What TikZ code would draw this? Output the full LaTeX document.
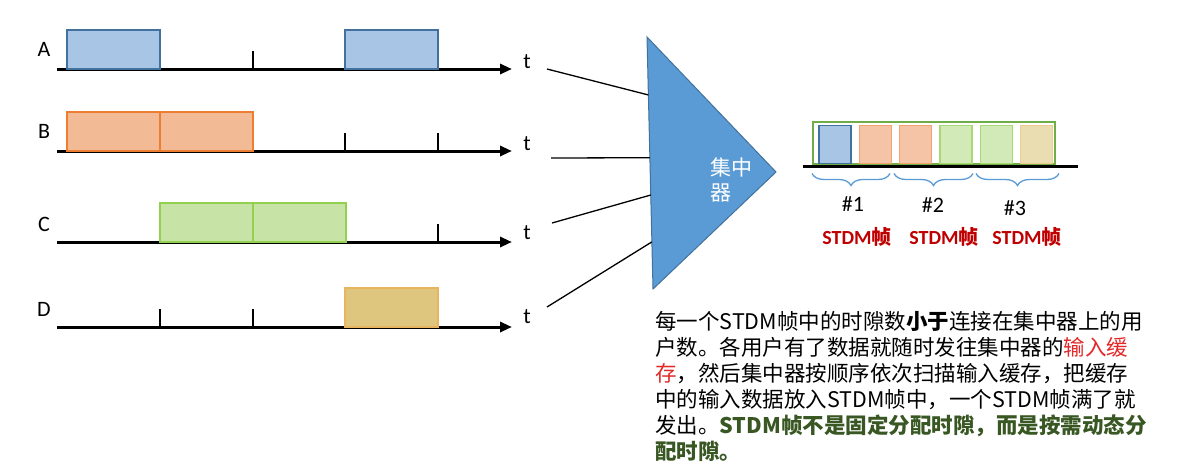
\documentclass[tikz,border=0pt]{standalone}
\usepackage{fontspec}
\setmainfont{Carlito}
\newfontfamily\cjk{Noto Sans CJK SC}
\usepackage{xcolor}
\usepackage{tikz}
\usetikzlibrary{positioning,arrows.meta,calc,decorations.pathreplacing}
\definecolor{afill}{RGB}{168,197,229}
\definecolor{adraw}{RGB}{65,113,156}
\definecolor{bfill}{RGB}{243,186,150}
\definecolor{bdraw}{RGB}{237,125,49}
\definecolor{cfill}{RGB}{199,228,166}
\definecolor{cdraw}{RGB}{146,208,80}
\definecolor{dfill}{RGB}{222,198,126}
\definecolor{ddraw}{RGB}{232,180,96}
\definecolor{concfill}{RGB}{91,155,213}
\definecolor{concdraw}{RGB}{65,113,156}
\definecolor{framecol}{RGB}{112,173,71}
\definecolor{bracecol}{RGB}{91,155,213}
\definecolor{stdmred}{RGB}{192,0,0}
\definecolor{bufred}{RGB}{226,40,40}
\definecolor{notegreen}{RGB}{56,87,35}

\begin{document}
\begin{tikzpicture}[x=1pt,y=-1pt,
axis/.style={-{Triangle[length=12pt,width=10pt]},line width=3pt},
tick/.style={line width=1.4pt},
slot/.style={draw,line width=1.2pt,minimum width=93pt,minimum height=39pt,inner sep=0pt,outer sep=0pt,anchor=south west},
fslot/.style={draw,line width=1.2pt,minimum width=32pt,minimum height=38pt,inner sep=0pt,outer sep=0pt},
lbl/.style={inner sep=0pt,font=\fontsize{22}{26}\selectfont},
link/.style={line width=1.3pt},
brc/.style={decorate,decoration={brace,mirror,amplitude=12pt},draw=bracecol,line width=1.3pt},
stdm/.style={inner sep=0pt,text=stdmred,font=\fontsize{20}{24}\selectfont\bfseries}]
\useasboundingbox (0,0) rectangle (1199,475);

% channels A-D
\node[lbl] (la) at (44,49) {A};
\node[lbl] (lb) at (44,131) {B};
\node[lbl] (lc) at (44,224) {C};
\node[lbl] (ld) at (44,309) {D};
\node[lbl] (ta) at (527,62) {t};
\node[lbl] (tb) at (527,144) {t};
\node[lbl] (tc) at (527,233) {t};
\node[lbl] (td) at (527,317) {t};

\draw[axis] (57,69) -- (512,69);
\draw[axis] (57,151) -- (512,151);
\draw[axis] (57,242) -- (512,242);
\draw[axis] (57,327) -- (512,327);
\foreach \y in {69,151,242,327}
  \foreach \x in {160,253,345,438}
    \draw[tick] (\x,\y) -- (\x,\y-18);

\node[slot,fill=afill,draw=adraw] (a1) at (67,69) {};
\node[slot,fill=afill,draw=adraw] (a2) at (345,69) {};
\node[slot,fill=bfill,draw=bdraw] (b1) at (67,151) {};
\node[slot,fill=bfill,draw=bdraw] (b2) at (160,151) {};
\node[slot,fill=cfill,draw=cdraw] (c1) at (160,242) {};
\node[slot,fill=cfill,draw=cdraw] (c2) at (253,242) {};
\node[slot,fill=dfill,draw=ddraw] (d1) at (345,327) {};

% concentrator
\draw[fill=concfill,draw=concdraw,line width=1pt] (647,37) coordinate (p1) -- (776,172) coordinate (p3) -- (653,289) coordinate (p2) -- cycle;
\node[inner sep=0pt,anchor=north west,align=left,text=white,font=\cjk\fontsize{21}{25}\selectfont] (conc) at (710,158) {集中\\器};
\coordinate (ia) at ($(p1)!0.23!(p2)$);
\coordinate (ib) at ($(p1)!0.479!(p2)$);
\coordinate (ic) at ($(p1)!0.627!(p2)$);
\coordinate (id) at ($(p1)!0.813!(p2)$);
\coordinate (sa) at (547,69);
\coordinate (sb) at (551,158);
\coordinate (sc) at (552,223);
\coordinate (sd) at (547,307);
\draw[link] (sa) -- (ia);
\draw[link] (sb) -- (ib);
\draw[link] (sc) -- (ic);
\draw[link] (sd) -- (id);

% STDM frames
\node[draw=framecol,line width=1.5pt,minimum width=242pt,minimum height=42pt,inner sep=0pt,anchor=south west] (frm) at (812,164.5) {};
\node[fslot,fill=afill,draw=adraw,anchor=south west] (f1) at (819,163.5) {};
\node[fslot,fill=bfill!85!white,draw=bdraw!70!white,right=8.3pt of f1] (f2) {};
\node[fslot,fill=bfill!85!white,draw=bdraw!70!white,right=8.3pt of f2] (f3) {};
\node[fslot,fill=cfill!80!white,draw=cdraw!80!white,right=8.3pt of f3] (f4) {};
\node[fslot,fill=cfill!80!white,draw=cdraw!80!white,right=8.3pt of f4] (f5) {};
\node[fslot,fill=dfill!60!white,draw=ddraw!70!white,right=8.3pt of f5] (f6) {};
\draw[line width=2.6pt] (803,166.5) -- (1078,166.5);

\draw[brc] (812,173.5) -- (890,173.5);
\draw[brc] (894,173.5) -- (973,173.5);
\draw[brc] (976,173.5) -- (1059,173.5);
\node[lbl] (n1) at (853,204) {\#1};
\node[lbl] (n2) at (933,205) {\#2};
\node[lbl] (n3) at (1015,208) {\#3};
\node[stdm] (s1) at (857,237) {STDM{\cjk 帧}};
\node[stdm] (s2) at (944,237) {STDM{\cjk 帧}};
\node[stdm] (s3) at (1027,237) {STDM{\cjk 帧}};

% note
\node[inner sep=0pt,anchor=north west,align=left,font=\cjk\fontsize{21.5}{26}\selectfont] (note) at (655,311)
{每一个STDM帧中的时隙数\textbf{小于}连接在集中器上的用\\
户数。各用户有了数据就随时发往集中器的\textcolor{bufred}{输入缓}\\
\textcolor{bufred}{存}，然后集中器按顺序依次扫描输入缓存，把缓存\\
中的输入数据放入STDM帧中，一个STDM帧满了就\\
发出。\textcolor{notegreen}{\bfseries STDM帧不是固定分配时隙，而是按需动态分}\\
\textcolor{notegreen}{\bfseries 配时隙。}};
\end{tikzpicture}
\end{document}
